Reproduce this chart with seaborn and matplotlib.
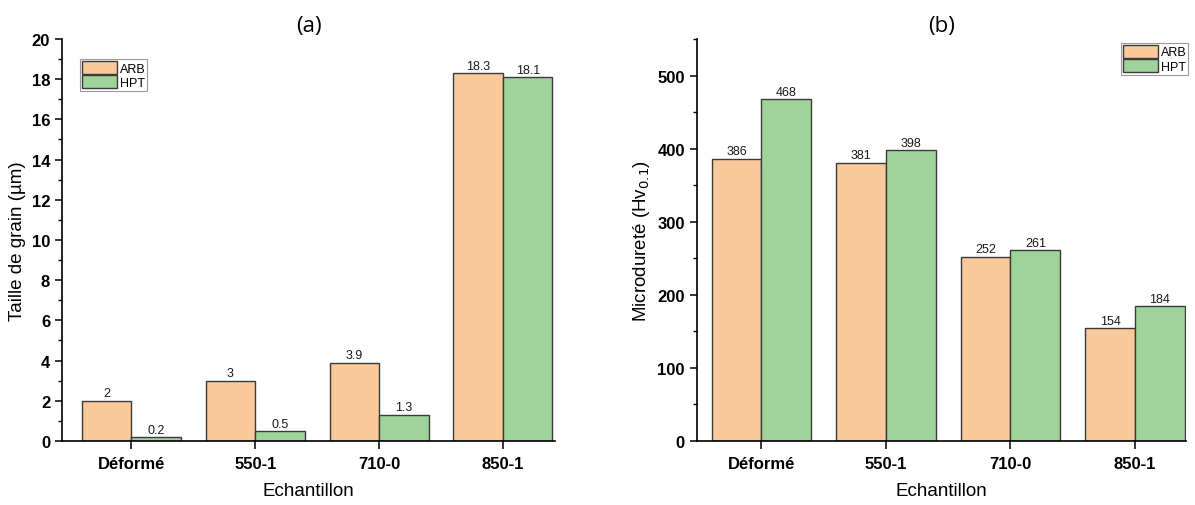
import matplotlib
matplotlib.use("Agg")
from matplotlib import pyplot as plt
from matplotlib.ticker import MultipleLocator
import pandas as pd
import seaborn as sns

samples = ["Déformé", "550-1", "710-0", "850-1"]
procedes = ["ARB", "HPT"]
taille_arb = [2, 3, 3.9, 18.3]
taille_hpt = [0.2, 0.5, 1.3, 18.1]
durete_arb = [386, 381, 252, 154]
durete_hpt = [468, 398, 261, 184]
colors = {"ARB": "#F9C89B", "HPT": "#A0D39B"}


def to_long(arb, hpt):
    return pd.DataFrame({
        "Echantillon": samples * 2,
        "Procede": ["ARB"] * len(samples) + ["HPT"] * len(samples),
        "valeur": list(arb) + list(hpt),
    })


sns.set_style("ticks")
plt.rcParams["font.family"] = ["Liberation Sans", "DejaVu Sans"]
for key in ["text.color", "axes.labelcolor", "xtick.color", "ytick.color", "axes.edgecolor"]:
    plt.rcParams[key] = "black"

fig = plt.figure(figsize=(11.95, 5.06), dpi=100)
ax1 = fig.add_axes([0.0519, 0.1265, 0.4125, 0.7945])
ax2 = fig.add_axes([0.583, 0.1265, 0.4095, 0.7945])


def draw_panel(ax, df, ylabel, ylim, major, fmt, title, legend_loc):
    sns.barplot(data=df, x="Echantillon", y="valeur", hue="Procede", order=samples,
                hue_order=procedes, palette=colors, width=0.8, edgecolor="#3a3a3a",
                linewidth=1.0, saturation=1, ax=ax)
    for cont in ax.containers:
        ax.bar_label(cont, fmt=fmt, padding=1, fontsize=9, color="#1a1a1a")
    ax.set_ylim(*ylim)
    ax.yaxis.set_major_locator(MultipleLocator(major))
    ax.yaxis.set_minor_locator(MultipleLocator(major / 2))
    ax.tick_params(axis="y", which="major", direction="out", length=5, width=1.1, labelsize=12)
    ax.tick_params(axis="y", which="minor", direction="out", length=3, width=1.0)
    ax.tick_params(axis="x", which="major", direction="out", length=6, width=1.1, labelsize=12, pad=5)
    for lab in ax.get_xticklabels() + ax.get_yticklabels():
        lab.set_fontweight("bold")
    ax.set_xlabel("Echantillon", fontsize=13.5, labelpad=8)
    ax.set_ylabel(ylabel, fontsize=13.5, labelpad=4)
    ax.set_title(title, fontsize=16, family=["Open Sans", "DejaVu Sans"], pad=6)
    for side in ["top", "right"]:
        ax.spines[side].set_visible(False)
    for side in ["left", "bottom"]:
        ax.spines[side].set_linewidth(1.2)
    leg = ax.legend(loc="upper left", bbox_to_anchor=legend_loc, fontsize=9,
                    handlelength=2.8, handleheight=1.2, handletextpad=0.2,
                    labelspacing=0.05, borderpad=0.15, borderaxespad=0,
                    fancybox=False, framealpha=1, edgecolor="#999999")
    leg.get_frame().set_linewidth(0.8)


draw_panel(ax1, to_long(taille_arb, taille_hpt), "Taille de grain (µm)", (0, 20), 2,
           "{:g}", "(a)", (0.037, 0.95))
ax1.set_xlim(-0.56, 3.42)

draw_panel(ax2, to_long(durete_arb, durete_hpt), "Microdureté (Hv$_{0.1}$)", (0, 550), 100,
           "{:g}", "(b)", (0.868, 0.99))
ax2.set_xlim(-0.52, 3.41)

fig.savefig("out.png", dpi=100)
